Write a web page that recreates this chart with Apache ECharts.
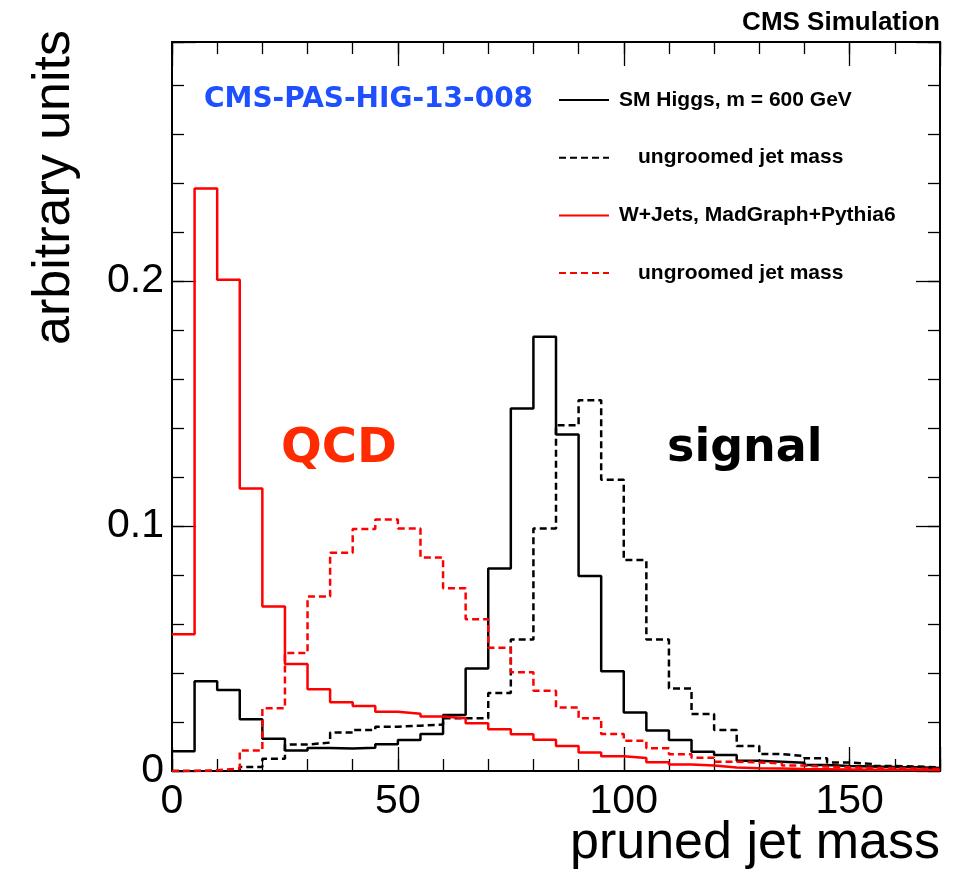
<!DOCTYPE html>
<html>
<head>
<meta charset="utf-8">
<script src="https://cdn.jsdelivr.net/npm/echarts@6/dist/echarts.min.js"></script>
<style>
html,body{margin:0;padding:0;background:#fff;}
#chart{width:969px;height:871px;}
</style>
</head>
<body>
<div id="chart"></div>
<script>
// Bin edges of the pruned jet mass histograms (GeV), width 5
const binEdges = [0,5,10,15,20,25,30,35,40,45,50,55,60,65,70,75,80,85,90,95,100,105,110,115,120,125,130,135,140,145,150,155,160,165,170];

// SM Higgs (m = 600 GeV), pruned jet mass
const higgsPruned = [0.0081,0.0366,0.0331,0.0211,0.0132,0.0084,0.0094,0.0092,0.0095,0.0109,0.0127,0.0151,0.0229,0.0418,0.0827,0.148,0.1773,0.1374,0.0796,0.0407,0.0239,0.0165,0.0127,0.0079,0.0065,0.0042,0.0038,0.0034,0.0024,0.002,0.0018,0.0016,0.0015,0.0012];
// SM Higgs, ungroomed jet mass
const higgsUngroomed = [0,0,0.0005,0.0016,0.005,0.0108,0.0116,0.0157,0.0167,0.0181,0.0185,0.019,0.0215,0.0215,0.0318,0.0537,0.099,0.1411,0.1514,0.1189,0.0861,0.0537,0.0337,0.0233,0.0167,0.0102,0.0069,0.0061,0.0052,0.0035,0.0029,0.002,0.0018,0.0015];
// W+Jets, pruned jet mass
const wjetsPruned = [0.0558,0.2378,0.2005,0.1153,0.0672,0.0437,0.0334,0.0281,0.0265,0.0242,0.0234,0.0222,0.0215,0.0195,0.017,0.015,0.0128,0.0102,0.0076,0.006,0.0053,0.0036,0.0027,0.0022,0.0014,0.0011,0.001,0.0008,0.0007,0.0006,0.0005,0.0005,0.0004,0.0004];
// W+Jets, ungroomed jet mass
const wjetsUngroomed = [0,0.0003,0.001,0.0084,0.0256,0.0482,0.0712,0.0891,0.0988,0.1027,0.099,0.0872,0.0746,0.062,0.0503,0.0403,0.0328,0.0259,0.0215,0.0151,0.0123,0.0093,0.0068,0.0054,0.0038,0.0035,0.0031,0.0022,0.0018,0.0015,0.0012,0.0011,0.001,0.0008];

const seriesNames = ['SM Higgs, m = 600 GeV', 'Higgs ungroomed', 'W+Jets, MadGraph+Pythia6', 'W+Jets ungroomed'];
const legendLabels = ['SM Higgs, m = 600 GeV', 'ungroomed jet mass', 'W+Jets, MadGraph+Pythia6', 'ungroomed jet mass'];
const xTickLabels = ['0', '50', '100', '150'];
const yTickLabels = ['0', '0.1', '0.2'];

function histData(vals) {
  const d = vals.map((v, i) => [binEdges[i], v]);
  d.push([binEdges[binEdges.length - 1], vals[vals.length - 1]]);
  return d;
}

const chart = echarts.init(document.getElementById('chart'), null, {renderer: 'canvas'});
const tickFont = '"Liberation Sans", Arial, sans-serif';
const black = '#000';

function xAx(pos, interval, len, labels) {
  return {
    type: 'value', position: pos, min: 0, max: 170, interval: interval,
    axisLine: {show: true, onZero: false, lineStyle: {color: black, width: 2}},
    axisTick: {show: true, inside: true, length: len, lineStyle: {color: black, width: 1.3}},
    splitLine: {show: false},
    axisLabel: labels ? {
      show: true, margin: 10, color: black, fontSize: 41, fontFamily: tickFont,
      formatter: v => { const k = xTickLabels.indexOf(String(Math.round(v))); return (Math.abs(v - Math.round(v)) < 1e-9 && k >= 0) ? xTickLabels[k] : ''; }
    } : {show: false}
  };
}
function yAx(pos, interval, len, labels) {
  return {
    type: 'value', position: pos, min: 0, max: 0.2976, interval: interval,
    axisLine: {show: true, onZero: false, lineStyle: {color: black, width: 2}},
    axisTick: {show: true, inside: true, length: len, lineStyle: {color: black, width: 1.3}},
    splitLine: {show: false},
    axisLabel: labels ? {
      show: true, margin: 8, color: black, fontSize: 41, fontFamily: tickFont,
      formatter: v => { const r = Math.round(v * 10); return Math.abs(v * 10 - r) < 1e-6 && r < yTickLabels.length ? yTickLabels[r] : ''; }
    } : {show: false}
  };
}

const styles = [
  {color: '#000000', type: 'solid'},
  {color: '#000000', type: [7, 4]},
  {color: '#ff0000', type: 'solid'},
  {color: '#ff0000', type: [7, 4]}
];
const allVals = [higgsPruned, higgsUngroomed, wjetsPruned, wjetsUngroomed];

const option = {
  backgroundColor: '#fff',
  animation: false,
  grid: {left: 172, right: 29, top: 42, bottom: 100, show: true, borderColor: black, borderWidth: 2, backgroundColor: 'transparent'},
  xAxis: [xAx('bottom', 10, 12, false), xAx('bottom', 50, 24, true), xAx('top', 10, 12, false), xAx('top', 50, 24, false)],
  yAxis: [yAx('left', 0.02, 12, false), yAx('left', 0.1, 24, true), yAx('right', 0.02, 12, false), yAx('right', 0.1, 24, false)],
  legend: {
    show: true, orient: 'vertical', left: 558, top: 89, padding: 0, itemWidth: 50, itemHeight: 0.5, itemGap: 35.7,
    selectedMode: false,
    data: seriesNames,
    formatter: name => {
      const i = seriesNames.indexOf(name);
      return (i % 2 === 1 ? '{u|' : '{m|') + legendLabels[i] + '}';
    },
    textStyle: {
      color: black, fontSize: 21, fontWeight: 'bold', fontFamily: tickFont, lineHeight: 22,
      rich: {
        m: {fontSize: 21, fontWeight: 'bold', fontFamily: tickFont, padding: [0, 0, 0, 5], color: black},
        u: {fontSize: 21, fontWeight: 'bold', fontFamily: tickFont, padding: [0, 0, 0, 24], color: black}
      }
    }
  },
  series: allVals.map((vals, i) => ({
    name: seriesNames[i], type: 'line', step: 'end', xAxisIndex: 0, yAxisIndex: 0,
    symbol: 'none', showSymbol: false, clip: true,
    data: histData(vals),
    lineStyle: {color: styles[i].color, width: 2.5, type: styles[i].type},
    itemStyle: {color: styles[i].color},
    z: 3
  })),
  graphic: [
    {type: 'text', x: 940, y: 23, style: {text: 'CMS Simulation', fill: black, font: 'bold 26px "Liberation Sans", Arial, sans-serif', align: 'right', verticalAlign: 'middle'}},
    {type: 'text', x: 204, y: 100, style: {text: 'CMS-PAS-HIG-13-008', fill: '#1e50ff', font: 'bold 28px "DejaVu Sans", sans-serif', align: 'left', verticalAlign: 'middle'}},
    {type: 'text', x: 281, y: 450, style: {text: 'QCD', fill: '#ff2a00', font: 'bold 48px "DejaVu Sans", sans-serif', align: 'left', verticalAlign: 'middle'}},
    {type: 'text', x: 667, y: 449, style: {text: 'signal', fill: black, font: 'bold 46px "DejaVu Sans", sans-serif', align: 'left', verticalAlign: 'middle'}},
    {type: 'text', x: 940, y: 844, style: {text: 'pruned jet mass', fill: black, font: '52px "Liberation Sans", Arial, sans-serif', align: 'right', verticalAlign: 'middle'}},
    {type: 'text', x: 55, y: 30, rotation: Math.PI / 2, style: {text: 'arbitrary units', fill: black, font: '52px "Liberation Sans", Arial, sans-serif', align: 'right', verticalAlign: 'middle'}}
  ]
};
chart.setOption(option);
</script>
</body>
</html>
